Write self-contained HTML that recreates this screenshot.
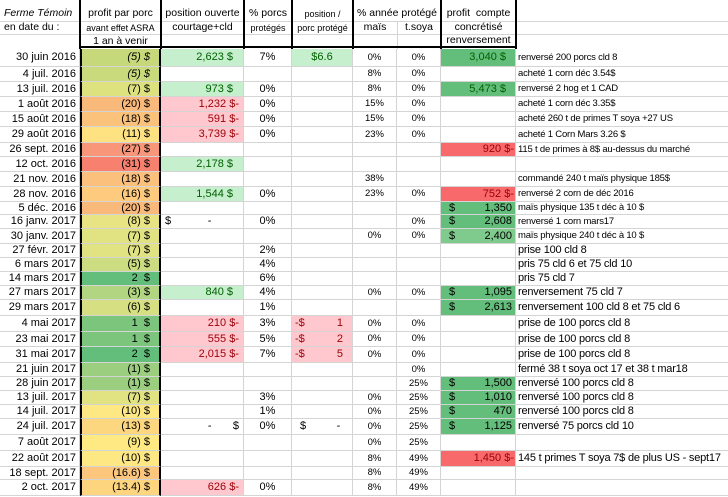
<!DOCTYPE html>
<html><head><meta charset="utf-8">
<style>
body{margin:0;width:728px;height:497px;overflow:hidden;background:#fff;font-family:"Liberation Sans",Arial,sans-serif;position:relative}
.c{position:absolute;box-sizing:border-box;border-right:1px solid #d4d4d4;border-bottom:1px solid #d4d4d4;font-size:11px;line-height:14px;white-space:nowrap;overflow:visible;color:#000}
.h{position:absolute;text-align:center;white-space:nowrap;color:#000}
.vl{position:absolute;background:#000;width:2px}
.hl{position:absolute;height:1px;background:#d4d4d4}
</style></head><body>
<div>
<div class="hl" style="left:0;top:21px;width:728px"></div>
<div class="hl" style="left:0;top:34px;width:728px"></div>
<div class="h" style="left:0;top:7px;width:80px;font-size:10.5px;font-style:italic;text-align:left;padding-left:4px">Ferme Témoin</div>
<div class="h" style="left:0;top:21px;width:80px;font-size:10.5px;text-align:left;padding-left:4px">en date du :</div>
<div class="h" style="left:80px;top:7px;width:81px;font-size:10.5px">profit par porc</div>
<div class="h" style="left:80px;top:23px;width:81px;font-size:9px">avant effet ASRA</div>
<div class="h" style="left:80px;top:35px;width:81px;font-size:10.5px">1 an à venir</div>
<div class="h" style="left:161px;top:7px;width:83px;font-size:10.5px">position ouverte</div>
<div class="h" style="left:161px;top:21px;width:83px;font-size:10.5px">courtage+cld</div>
<div class="h" style="left:244px;top:7px;width:48px;font-size:10.5px">% porcs</div>
<div class="h" style="left:244px;top:23px;width:48px;font-size:9px">protégés</div>
<div class="h" style="left:292px;top:9px;width:61px;font-size:9px">position /</div>
<div class="h" style="left:292px;top:23px;width:61px;font-size:9px">porc protégé</div>
<div class="h" style="left:353px;top:7px;width:88px;font-size:10.5px">% année protégé</div>
<div class="h" style="left:353px;top:21px;width:44px;font-size:10.5px">maïs</div>
<div class="h" style="left:397px;top:21px;width:44px;font-size:10.5px">t.soya</div>
<div class="h" style="left:441px;top:7px;width:75px;font-size:10.5px">profit&nbsp; compte</div>
<div class="h" style="left:441px;top:21px;width:75px;font-size:10.5px">concrétisé</div>
<div class="h" style="left:441px;top:34px;width:75px;font-size:10.5px">renversement</div>
<div class="vl" style="left:79px;top:0;height:49px"></div>
<div class="vl" style="left:160px;top:0;height:49px"></div>
<div class="vl" style="left:243px;top:0;height:49px"></div>
<div class="vl" style="left:291px;top:0;height:49px"></div>
<div class="vl" style="left:352px;top:0;height:49px"></div>
<div class="vl" style="left:440px;top:0;height:49px"></div>
<div class="vl" style="left:515px;top:0;height:49px"></div>
<div style="position:absolute;left:397px;top:21px;width:1px;height:28px;background:#d4d4d4"></div>
<div style="position:absolute;left:80px;top:46px;width:437px;height:2px;background:#000"></div>
</div>
<div id="grid"></div>
<script>
const bounds=[49,67,82,97,112,127,143,157,172,187,202,215,229,244,258,272,286,300,316,332,347,363,377,391,405,419,435,451,467,480,496];
const cols=[0,80,161,244,292,353,397,441,516,728];
const dates=["30 juin 2016","4 juil. 2016","13 juil. 2016","1 août 2016","15 août 2016","29 août 2016","26 sept. 2016","12 oct. 2016","21 nov. 2016","28 nov. 2016","5 déc. 2016","16 janv. 2017","30 janv. 2017","27 févr. 2017","6 mars 2017","14 mars 2017","27 mars 2017","29 mars 2017","4 mai 2017","23 mai 2017","31 mai 2017","21 juin 2017","28 juin 2017","13 juil. 2017","14 juil. 2017","24 juil. 2017","7 août 2017","22 août 2017","18 sept. 2017","2 oct. 2017"];
const profit=["(5)","(5)","(7)","(20)","(18)","(11)","(27)","(31)","(18)","(16)","(20)","(8)","(7)","(7)","(5)","2","(3)","(6)","1","1","2","(1)","(1)","(7)","(10)","(13)","(9)","(10)","(16.6)","(13.4)"];
const profitBg=["#c5d97a","#c8da7c","#dde27f","#f9b97a","#fbc27c","#fee282","#f8967a","#f8806f","#fbc07c","#fdca7e","#f9b97a","#e8e483","#e1e383","#e1e383","#cbdc81","#63be7b","#b1d580","#d6e082","#7cc57d","#7cc57d","#63be7b","#9bcf7f","#9bcf7f","#e1e383","#fde883","#fdd680","#fee983","#fde883","#fcc67d","#fdd57f"];
const position=["2,623 $","","973 $","-1,232","-591","-3,739","","2,178 $","","1,544 $","","DASH","","","","","840 $","","-210","-555","-2,015","","","","","- $","","","","-626"];
const pctPorcs=["7%","","0%","0%","0%","0%","","","","0%","","0%","","2%","4%","6%","4%","1%","3%","5%","7%","","","3%","1%","0%","","","","0%"];
const posPorc=["$6.6","","","","","","","","","","","","","","","","","","-1","-2","-5","","","","","DASH","","","",""];
const mais=["0%","8%","8%","15%","15%","23%","","","38%","23%","","","0%","","","","0%","","0%","0%","0%","","","0%","0%","0%","0%","8%","8%","8%"];
const soya=["0%","0%","0%","0%","0%","0%","","","","0%","","0%","0%","","","","0%","","0%","0%","0%","0%","25%","25%","25%","25%","25%","49%","49%","49%"];
const compte=["3,040 $","","5,473 $","","","","-920","","","-752","$1,350","$2,608","$2,400","","","","$1,095","$2,613","","","","","$1,500","$1,010","$470","$1,125","","-1,450","",""];
const notes=["renversé 200 porcs cld 8","acheté 1 corn déc 3.54$","renversé 2 hog et 1 CAD","acheté 1 corn déc 3.35$","acheté 260 t de primes T soya +27 US","acheté 1 Corn Mars 3.26 $","115 t de primes à 8$ au-dessus du marché","","commandé 240 t maïs physique 185$","renversé 2 corn de déc 2016","maïs physique 135 t déc à 10 $","renversé 1 corn mars17","maïs physique 240 t déc à 10 $","prise 100 cld 8","pris 75 cld 6 et 75 cld 10","pris 75 cld 7","renversement 75 cld 7","renversement 100 cld 8 et 75  cld 6","prise de 100 porcs cld 8","prise de 100 porcs cld 8","prise de 100 porcs cld 8","fermé 38 t soya oct 17 et 38 t mar18","renversé 100 porcs cld 8","renversé 100 porcs cld 8","renversé 100 porcs cld 8","renversé 75 porcs cld 10","","145 t  primes T soya 7$ de plus US - sept17","",""];
const grid=document.getElementById('grid');
function cell(r,c){
  const d=document.createElement('div');
  d.className='c';
  const h=bounds[r+1]-bounds[r];
  d.style.left=cols[c]+'px';d.style.top=bounds[r]+'px';
  d.style.width=(cols[c+1]-cols[c])+'px';d.style.height=h+'px';
  d.style.lineHeight=(h-1)+'px';
  grid.appendChild(d);return d;
}
for(let r=0;r<dates.length;r++){
  let d=cell(r,0);
  
  
  d.style.textAlign='right';d.style.paddingRight='3px';d.style.fontSize='11px';d.textContent=dates[r];
  d=cell(r,1);
  
  
  d.style.background=profitBg[r];d.style.borderLeft='2px solid #000';d.style.borderRight='2px solid #000';
  d.style.textAlign='right';d.style.paddingRight='9px';d.style.fontSize='11px';
  d.innerHTML=profit[r].startsWith('(')?profit[r]+' $':profit[r]+'&nbsp;&nbsp;$';
  if(r<2){d.style.fontStyle='italic';}
  d=cell(r,2);
  
  
  let v=position[r];d.style.textAlign='right';d.style.paddingRight='16px';d.style.fontSize='11px';
  if(v==='DASH'){d.style.textAlign='left';d.style.paddingLeft='4px';d.innerHTML='$&nbsp;&nbsp;&nbsp;&nbsp;&nbsp;&nbsp;&nbsp;&nbsp;&nbsp;&nbsp;&nbsp;&nbsp;-';}
  else if(v==='- $'){d.style.paddingRight='4px';d.innerHTML='-&nbsp;&nbsp;&nbsp;&nbsp;&nbsp;&nbsp;&nbsp;$';}
  else if(v.startsWith('-')){d.style.background='#ffc7ce';d.style.color='#9c0006';d.style.paddingRight='4px';d.textContent=v.slice(1)+' $-';}
  else if(v){d.style.background='#c6efce';d.style.color='#006100';d.style.paddingRight='10px';d.textContent=v;}
  d=cell(r,3);
  
  
  d.style.textAlign='center';d.style.fontSize='11px';d.textContent=pctPorcs[r];
  d=cell(r,4);
  
  
  v=posPorc[r];d.style.fontSize='11px';
  if(v==='$6.6'){d.style.background='#c6efce';d.style.color='#006100';d.style.textAlign='center';d.textContent=v;}
  else if(v==='DASH'){d.style.paddingLeft='8px';d.innerHTML='$&nbsp;&nbsp;&nbsp;&nbsp;&nbsp;&nbsp;&nbsp;&nbsp;&nbsp;&nbsp;-';}
  else if(v){d.style.background='#ffc7ce';d.style.color='#9c0006';d.style.padding='0 9px 0 3px';d.innerHTML='<span style="float:left">-$</span><span style="float:right">'+v.slice(1)+'</span>';}
  d=cell(r,5);
  
  
  d.style.textAlign='center';d.style.fontSize='9.5px';d.textContent=mais[r];
  d=cell(r,6);
  
  
  d.style.textAlign='center';d.style.fontSize='9.5px';d.textContent=soya[r];
  d=cell(r,7);
  
  
  v=compte[r];d.style.fontSize='11px';
  if(v.startsWith('-')){d.style.background='#f8696b';d.style.color='#9c0006';d.style.textAlign='right';d.style.paddingRight='1px';d.textContent=v.slice(1)+' $-';}
  else if(v.startsWith('$')){d.style.background=(v==='$2,400')?'#7fca8d':'#63be7b';d.style.padding='0 3px 0 8px';d.innerHTML='<span style="float:left">$</span><span style="float:right">'+v.slice(1)+'</span>';}
  else if(v){d.style.background='#63be7b';d.style.color='#006100';d.style.textAlign='right';d.style.paddingRight='9px';d.textContent=v;}
  d=cell(r,8);
  
  
  d.style.paddingLeft='2px';d.style.borderRight='none';
  if(r<13){d.style.fontSize='9.5px';d.style.letterSpacing='-0.2px';}else{d.style.fontSize='11px';d.style.letterSpacing='-0.2px';}
  d.textContent=notes[r];
}
</script>
</body></html>
